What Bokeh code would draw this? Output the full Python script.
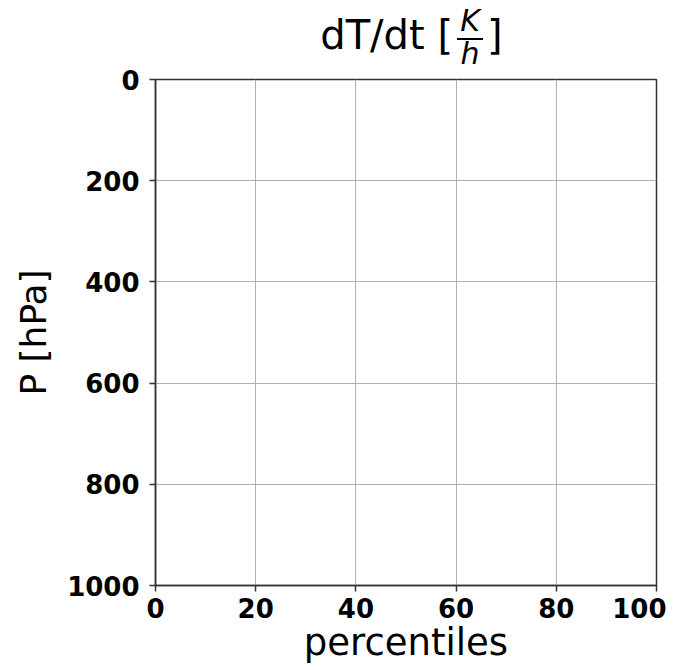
from bokeh.plotting import figure
from bokeh.models import FixedTicker, Div
from bokeh.layouts import column
from bokeh.embed import file_html
from bokeh.resources import INLINE

x_ticks = [0, 20, 40, 60, 80, 100]
y_ticks = [0, 200, 400, 600, 800, 1000]
x_label = "percentiles"
y_label = "P [hPa]"
title_main = "dT/dt ["
title_num = "K"
title_den = "h"
title_close = "]"

FONT = "DejaVu Sans"
W = 666
TH = 65

# ---- title (fraction K/h built from real text pieces) ----
title_html = f"""
<div style="position:relative;width:{W}px;height:{TH}px;font-family:'{FONT}';color:black;">
  <span style="position:absolute;right:{W-453}px;top:15px;font-size:40px;line-height:40px;white-space:nowrap;">{title_main}</span>
  <span style="position:absolute;left:455px;width:30px;text-align:center;top:6px;font-size:30px;line-height:30px;font-style:italic;">{title_num}</span>
  <div style="position:absolute;left:457px;top:38px;width:26px;height:2px;background:black;"></div>
  <span style="position:absolute;left:455px;width:30px;text-align:center;top:39px;font-size:30px;line-height:30px;font-style:italic;">{title_den}</span>
  <span style="position:absolute;left:487px;top:15px;font-size:40px;line-height:40px;">{title_close}</span>
</div>
"""
tdiv = Div(text=title_html, width=W, height=TH, margin=(0, 0, 0, 0))

# ---- main plot ----
p = figure(width=W, height=601, x_range=(0, 100), y_range=(1000, 0),
           output_backend="svg", toolbar_location=None,
           min_border_left=155, min_border_right=10,
           min_border_top=14, min_border_bottom=67)
p.outline_line_color = "#333333"
p.outline_line_width = 1.5

for ax, ticks, lab, fs in ((p.xaxis[0], x_ticks, x_label, "37px"), (p.yaxis[0], y_ticks, y_label, "36px")):
    ax.ticker = FixedTicker(ticks=ticks)
    ax.axis_label = lab
    ax.axis_label_text_font = FONT
    ax.axis_label_text_font_size = fs
    ax.axis_label_text_font_style = "normal"
    ax.axis_label_text_color = "black"
    ax.major_label_text_font = FONT
    ax.major_label_text_font_size = "26px"
    ax.major_label_text_font_style = "bold"
    ax.major_label_text_color = "black"
    ax.axis_line_color = "#333333"
    ax.axis_line_width = 1.5
    ax.major_tick_line_color = "#333333"
    ax.major_tick_line_width = 1.5
    ax.major_tick_out = 6
    ax.major_tick_in = 0
    ax.minor_tick_line_color = None

p.xaxis.major_label_standoff = 6
p.yaxis.major_label_standoff = 10
p.xaxis.axis_label_standoff = 0
p.yaxis.axis_label_standoff = 10

p.grid.grid_line_color = "#b0b0b0"
p.grid.grid_line_width = 1

layout = column(tdiv, p, spacing=0)
open("out.html", "w").write(file_html(layout, INLINE))
